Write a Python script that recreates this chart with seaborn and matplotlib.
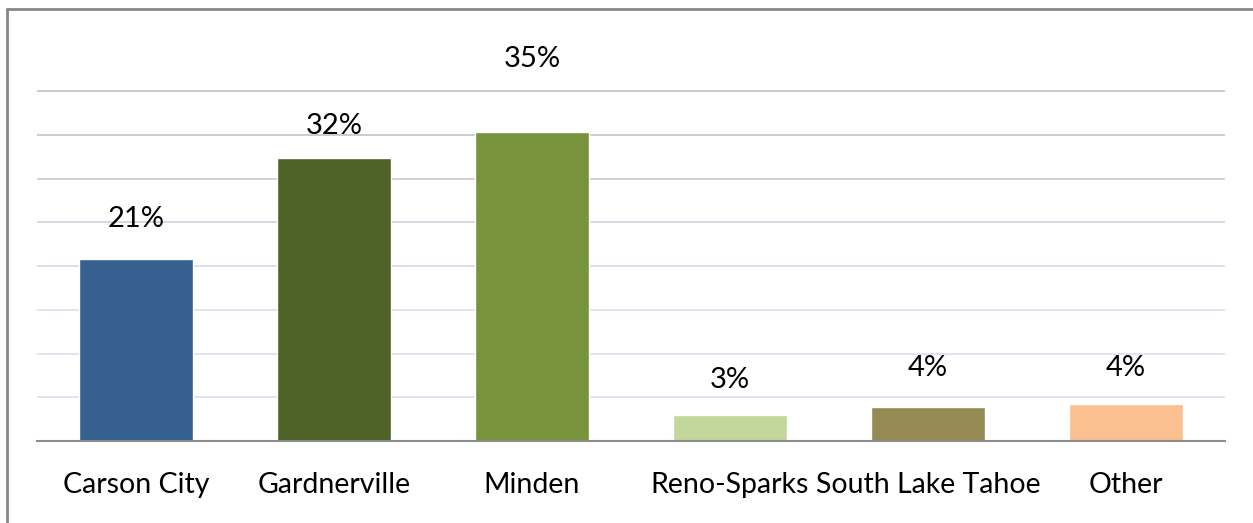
import matplotlib
matplotlib.use('Agg')
import numpy as np
import pandas as pd
import seaborn as sns
import matplotlib.pyplot as plt
from matplotlib.lines import Line2D

#%%
#--Data
places = ['Carson City', 'Gardnerville', 'Minden', 'Reno-Sparks', 'South Lake Tahoe', 'Other']
shares = [20.8, 32.3, 35.3, 3.0, 3.9, 4.2]
share_labels = ['21%', '32%', '35%', '3%', '4%', '4%']

#--Style
bar_colors = ['#35608f', '#4f6228', '#77933c', '#c3d69b', '#948a54', '#fac090']
label_offsets = [29, 23, 53, 25, 28, 26]   # points above bar top
grid_colors = ['#dbe2ef', '#dbe2ef', '#dbe2ef', '#d6dcea', '#d2d6e2', '#cdcfd6', '#c8c8cc', '#c6c6c6']

df = pd.DataFrame({'place': places, 'share': shares})

#%%
sns.set_theme(style='white')
plt.rcParams['font.family'] = ['Lato', 'DejaVu Sans']

fig = plt.figure(figsize=(12.53, 5.23), dpi=100)
ax = fig.add_axes([37 / 1253, 82 / 523, 1188 / 1253, 420 / 523])

for tick, col in zip(range(5, 45, 5), grid_colors):
    ax.axhline(tick, color=col, lw=1.3, zorder=0)

sns.barplot(data=df, x='place', y='share', hue='place', palette=bar_colors,
            width=0.576, saturation=1, legend=False, ax=ax, zorder=2)

for i, (val, lab, off) in enumerate(zip(shares, share_labels, label_offsets)):
    ax.annotate(lab, (i, val), xytext=(0, off), textcoords='offset points',
                ha='center', va='center', fontsize=21, color='#000000')

ax.set_ylim(0, 48)
ax.set_xlim(-0.5, 5.5)
ax.set_yticks([])
ax.set_xlabel('')
ax.set_ylabel('')
ax.tick_params(axis='x', length=0, pad=22, labelsize=20.5, labelcolor='#000000')
for s in ['top', 'right', 'left']:
    ax.spines[s].set_visible(False)
ax.spines['bottom'].set_color('#8c8c8c')
ax.spines['bottom'].set_linewidth(1.5)

#--Outer chart frame (top and left edges visible)
fig.add_artist(Line2D([6.5 / 1253, 1.0], [1 - 8.5 / 523, 1 - 8.5 / 523], color='#888888', lw=2, transform=fig.transFigure))
fig.add_artist(Line2D([6.5 / 1253, 6.5 / 1253], [0.0, 1 - 8.5 / 523], color='#888888', lw=2, transform=fig.transFigure))

fig.savefig('out.png', dpi=100)
